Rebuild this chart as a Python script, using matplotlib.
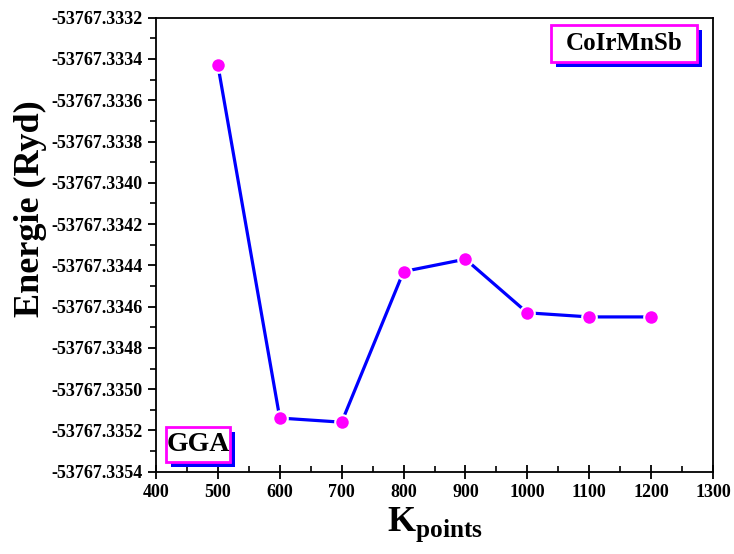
import numpy as np
import matplotlib
matplotlib.use('Agg')
import matplotlib.pyplot as plt
from matplotlib.patches import Rectangle
from matplotlib.ticker import MultipleLocator, FormatStrFormatter

plt.rcParams['font.family'] = 'Liberation Serif'
plt.rcParams['font.weight'] = 'bold'
plt.rcParams['mathtext.fontset'] = 'custom'
plt.rcParams['mathtext.rm'] = 'Liberation Serif:bold'
plt.rcParams['mathtext.bf'] = 'Liberation Serif:bold'

# k-point convergence test, total energy in Ryd
kpoints = [500, 600, 700, 800, 900, 1000, 1100, 1200]
energy = [-53767.33343, -53767.33514, -53767.33516, -53767.33443,
          -53767.33437, -53767.33463, -53767.33465, -53767.33465]

compound = 'CoIrMnSb'
functional = 'GGA'

fig = plt.figure(figsize=(7.34, 5.54), dpi=100)
ax = fig.add_axes([156/734., 1-471.7/554., 557/734., 454/554.])

ax.plot(kpoints, energy, color='blue', linewidth=2.3, marker='o', markersize=10.5,
        markerfacecolor='#ff00ff', markeredgecolor='white', markeredgewidth=1.5)

ax.set_xlim(400, 1300)
ax.set_ylim(-53767.3354, -53767.3332)
ax.xaxis.set_major_locator(MultipleLocator(100))
ax.xaxis.set_minor_locator(MultipleLocator(50))
ax.yaxis.set_major_locator(MultipleLocator(0.0002))
ax.yaxis.set_minor_locator(MultipleLocator(0.0001))
ax.yaxis.set_major_formatter(FormatStrFormatter('%.4f'))
ax.xaxis.set_major_formatter(FormatStrFormatter('%d'))

ax.tick_params(axis='both', which='major', direction='out', length=6, width=1.3, labelsize=13)
ax.tick_params(axis='x', which='major', direction='inout', length=10)
ax.tick_params(axis='x', which='minor', direction='in', length=4, width=1.2)
ax.tick_params(axis='y', which='minor', direction='out', length=4, width=1.2)
for lab in ax.get_xticklabels() + ax.get_yticklabels():
    lab.set_fontweight('bold')
for sp in ax.spines.values():
    sp.set_linewidth(1.3)

ax.set_xlabel(r'K$_{\mathrm{points}}$', fontsize=26, fontweight='bold', labelpad=4)
ax.set_ylabel('Energie (Ryd)', fontsize=26, fontweight='bold')
ax.yaxis.set_label_coords(-0.195, 0.579)

def shadow_box(x0, y0, x1, y1, text, fs):
    # blue drop shadow, then white box with magenta frame
    dx, dy = 4.5/557., 4.5/454.
    ax.add_patch(Rectangle((x0+dx, y0-dy), x1-x0, y1-y0, transform=ax.transAxes,
                           facecolor='blue', edgecolor='blue', lw=0, zorder=5))
    ax.add_patch(Rectangle((x0, y0), x1-x0, y1-y0, transform=ax.transAxes,
                           facecolor='white', edgecolor='#ff00ff', lw=2, zorder=6))
    ax.text((x0+x1)/2, (y0+y1)/2, text, transform=ax.transAxes, ha='center', va='center',
            fontsize=fs, fontweight='bold', zorder=7)

shadow_box((551-156)/557., (471.7-62)/454., (697-156)/557., (471.7-25)/454., compound, 18)
shadow_box((166-156)/557., (471.7-462)/454., (230-156)/557., (471.7-427)/454., functional, 20)

plt.savefig('out.png', dpi=100)
